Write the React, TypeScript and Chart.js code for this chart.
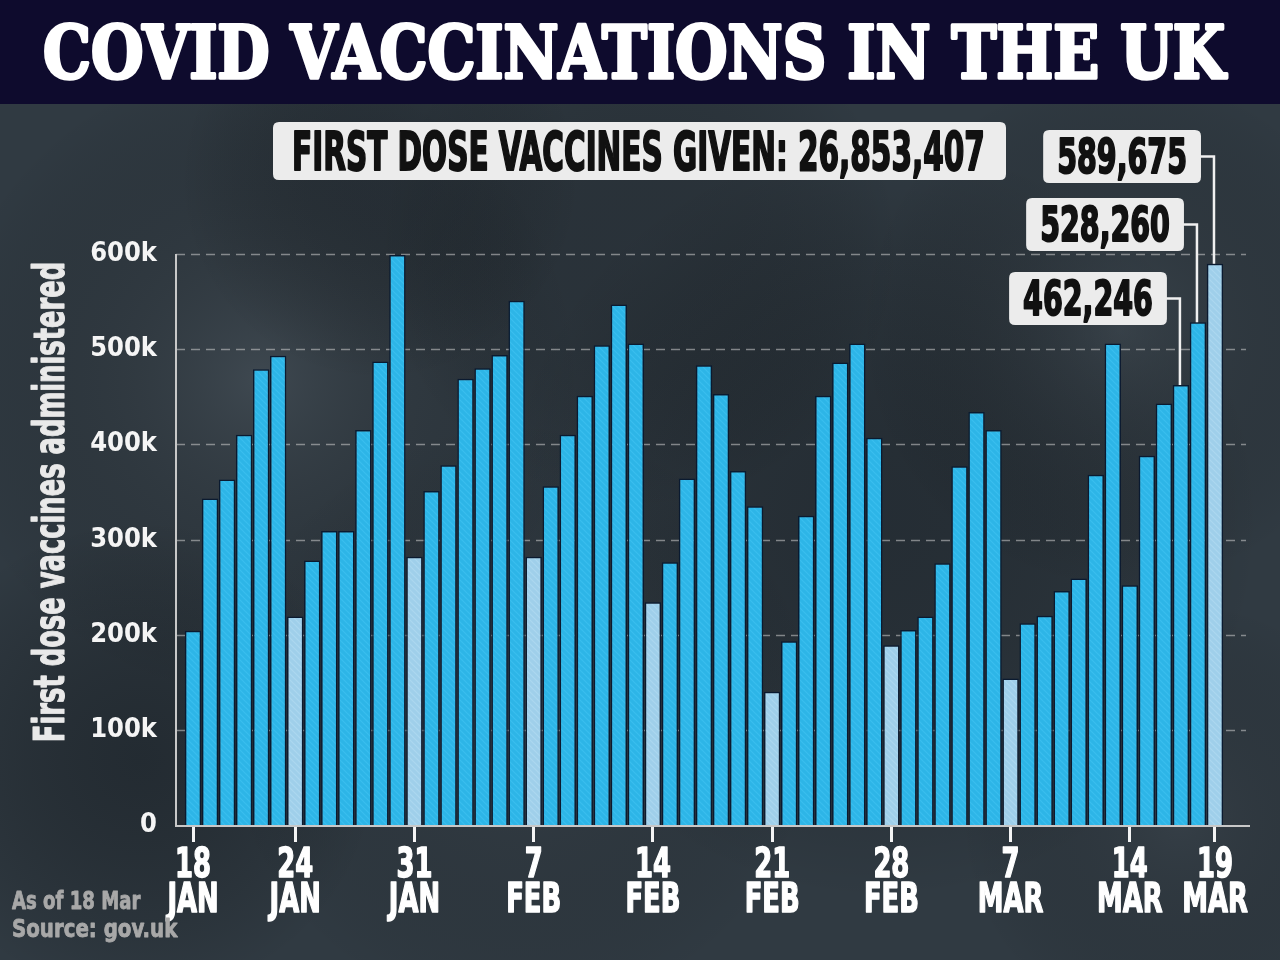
import React, { useEffect, useRef } from 'react';
import { Chart, registerables } from 'chart.js';

Chart.register(...registerables);

// ---------- DATA ----------
const days = [
  '18 Jan', '19 Jan', '20 Jan', '21 Jan', '22 Jan', '23 Jan', '24 Jan', '25 Jan', '26 Jan', '27 Jan',
  '28 Jan', '29 Jan', '30 Jan', '31 Jan',
  '1 Feb', '2 Feb', '3 Feb', '4 Feb', '5 Feb', '6 Feb', '7 Feb', '8 Feb', '9 Feb', '10 Feb',
  '11 Feb', '12 Feb', '13 Feb', '14 Feb', '15 Feb', '16 Feb', '17 Feb', '18 Feb', '19 Feb', '20 Feb',
  '21 Feb', '22 Feb', '23 Feb', '24 Feb', '25 Feb', '26 Feb', '27 Feb', '28 Feb',
  '1 Mar', '2 Mar', '3 Mar', '4 Mar', '5 Mar', '6 Mar', '7 Mar', '8 Mar', '9 Mar', '10 Mar',
  '11 Mar', '12 Mar', '13 Mar', '14 Mar', '15 Mar', '16 Mar', '17 Mar', '18 Mar', '19 Mar',
];

const firstDoses = [
  204000, 343000, 363000, 410000, 479000, 493000, 219000, 278000, 309000, 309000,
  415000, 487000, 599000, 282000,
  351000, 378000, 469000, 480000, 494000, 551000, 282000, 356000, 410000, 451000,
  504000, 547000, 506000, 234000, 276000, 364000, 483000, 453000, 372000, 335000,
  140000, 193000, 325000, 451000, 486000, 506000, 407000, 189000,
  205000, 219000, 275000, 377000, 434000, 415000, 154000, 212000, 220000, 246000,
  259000, 368000, 506000, 252000, 388000, 443000, 462246, 528260, 589675,
];

const highlightedDays = ['24 Jan', '31 Jan', '7 Feb', '14 Feb', '21 Feb', '28 Feb', '7 Mar', '19 Mar'];

const tickDays = ['18 Jan', '24 Jan', '31 Jan', '7 Feb', '14 Feb', '21 Feb', '28 Feb', '7 Mar', '14 Mar', '19 Mar'];
const tickDayLabels = ['18', '24', '31', '7', '14', '21', '28', '7', '14', '19'];
const tickMonthLabels = ['JAN', 'JAN', 'JAN', 'FEB', 'FEB', 'FEB', 'FEB', 'MAR', 'MAR', 'MAR'];

const yTickValues = [0, 100000, 200000, 300000, 400000, 500000, 600000];
const yTickLabels = ['0', '100k', '200k', '300k', '400k', '500k', '600k'];

const calloutDays = ['17 Mar', '18 Mar', '19 Mar'];

const titleText = 'COVID VACCINATIONS IN THE UK';
const subtitleText = 'FIRST DOSE VACCINES GIVEN: 26,853,407';
const yAxisTitle = 'First dose vaccines administered';
const footerLines = ['As of 18 Mar', 'Source: gov.uk'];

// ---------- DRAWING HELPERS ----------
const W = 1280;
const H = 960;
const COND = "'DejaVu Sans Condensed', 'DejaVu Sans', sans-serif";

function paint(ctx: CanvasRenderingContext2D, s: string, color: string, stroke: number) {
  ctx.fillStyle = color;
  ctx.fillText(s, 0, 0);
  if (stroke > 0) {
    ctx.strokeStyle = color;
    ctx.lineWidth = stroke;
    ctx.lineJoin = 'round';
    ctx.strokeText(s, 0, 0);
  }
}

function fitText(
  ctx: CanvasRenderingContext2D, s: string, x: number, baseline: number,
  font: string, color: string, targetW: number, align: CanvasTextAlign, stroke = 0,
) {
  ctx.save();
  ctx.font = font;
  const w = ctx.measureText(s).width + stroke;
  const sx = targetW / w;
  ctx.translate(x, baseline);
  ctx.scale(sx, 1);
  ctx.textAlign = align;
  ctx.textBaseline = 'alphabetic';
  paint(ctx, s, color, stroke);
  ctx.restore();
}

function scaledText(
  ctx: CanvasRenderingContext2D, s: string, x: number, baseline: number,
  font: string, color: string, sx: number, align: CanvasTextAlign, stroke = 0,
) {
  ctx.save();
  ctx.font = font;
  ctx.translate(x, baseline);
  ctx.scale(sx, 1);
  ctx.textAlign = align;
  ctx.textBaseline = 'alphabetic';
  paint(ctx, s, color, stroke);
  ctx.restore();
}

function measureScaled(ctx: CanvasRenderingContext2D, s: string, font: string, sx: number) {
  ctx.save();
  ctx.font = font;
  const w = ctx.measureText(s).width * sx;
  ctx.restore();
  return w;
}

function roundRect(ctx: CanvasRenderingContext2D, x: number, y: number, w: number, h: number, r: number) {
  ctx.beginPath();
  ctx.moveTo(x + r, y);
  ctx.lineTo(x + w - r, y);
  ctx.quadraticCurveTo(x + w, y, x + w, y + r);
  ctx.lineTo(x + w, y + h - r);
  ctx.quadraticCurveTo(x + w, y + h, x + w - r, y + h);
  ctx.lineTo(x + r, y + h);
  ctx.quadraticCurveTo(x, y + h, x, y + h - r);
  ctx.lineTo(x, y + r);
  ctx.quadraticCurveTo(x, y, x + r, y);
  ctx.closePath();
}

function stripes(base: string, line: string) {
  const c = document.createElement('canvas');
  c.width = 6;
  c.height = 6;
  const p = c.getContext('2d')!;
  p.fillStyle = base;
  p.fillRect(0, 0, 6, 6);
  p.strokeStyle = line;
  p.lineWidth = 1.2;
  p.beginPath();
  p.moveTo(0, 0); p.lineTo(6, 6);
  p.moveTo(-3, 3); p.lineTo(3, 9);
  p.moveTo(3, -3); p.lineTo(9, 3);
  p.stroke();
  return p.createPattern(c, 'repeat') as CanvasPattern;
}

const backgroundPlugin = {
  id: 'bgPlugin',
  beforeDraw(chart: any) {
    const ctx: CanvasRenderingContext2D = chart.ctx;
    ctx.save();
    ctx.fillStyle = '#303a42';
    ctx.fillRect(0, 0, W, H);
    const blobs: [number, number, number, string][] = [
      [260, 380, 320, 'rgba(84,94,102,0.40)'],
      [880, 520, 380, 'rgba(20,26,32,0.40)'],
      [1120, 330, 260, 'rgba(76,86,94,0.35)'],
      [520, 720, 300, 'rgba(70,78,86,0.30)'],
      [140, 760, 240, 'rgba(16,21,26,0.40)'],
      [640, 250, 260, 'rgba(30,36,42,0.35)'],
      [1180, 820, 220, 'rgba(66,74,82,0.30)'],
      [380, 180, 200, 'rgba(24,30,36,0.35)'],
    ];
    for (const [x, y, r, c] of blobs) {
      const g = ctx.createRadialGradient(x, y, 0, x, y, r);
      g.addColorStop(0, c);
      g.addColorStop(1, 'rgba(0,0,0,0)');
      ctx.fillStyle = g;
      ctx.fillRect(0, 0, W, H);
    }
    // title band
    ctx.fillStyle = '#0e0b2d';
    ctx.fillRect(0, 0, W, 104);
    ctx.restore();
  },
  beforeDatasetsDraw(chart: any) {
    const ctx: CanvasRenderingContext2D = chart.ctx;
    const y = chart.scales.y;
    ctx.save();
    // dashed gridlines
    ctx.strokeStyle = 'rgba(205,205,205,0.55)';
    ctx.lineWidth = 1.5;
    ctx.setLineDash([9, 6]);
    for (const v of yTickValues) {
      if (v === 0) continue;
      const py = Math.round(y.getPixelForValue(v)) + 0.5;
      ctx.beginPath();
      ctx.moveTo(176, py);
      ctx.lineTo(1246, py);
      ctx.stroke();
    }
    ctx.setLineDash([]);
    // axis lines
    ctx.strokeStyle = '#c8c8c8';
    ctx.lineWidth = 2;
    const top = y.getPixelForValue(600000);
    const bottom = y.getPixelForValue(0);
    ctx.beginPath();
    ctx.moveTo(176, top);
    ctx.lineTo(176, bottom + 1);
    ctx.moveTo(175, bottom + 1);
    ctx.lineTo(1250, bottom + 1);
    ctx.stroke();
    ctx.restore();
  },
  afterDraw(chart: any) {
    const ctx: CanvasRenderingContext2D = chart.ctx;
    const xs = chart.scales.x;

    // title
    fitText(ctx, titleText, 43, 78, "bold 72px 'DejaVu Serif', serif", '#ffffff', 1185, 'left', 3.5);

    // subtitle box
    ctx.save();
    ctx.fillStyle = '#ececec';
    roundRect(ctx, 273, 122, 733, 58, 6);
    ctx.fill();
    ctx.restore();
    fitText(ctx, subtitleText, 292, 170, `bold 53px ${COND}`, '#111111', 694, 'left', 2);

    // y axis title
    ctx.save();
    ctx.translate(64, 502);
    ctx.rotate(-Math.PI / 2);
    fitText(ctx, yAxisTitle, 0, 0, `bold 42px ${COND}`, '#e9e9e9', 481, 'center', 1);
    ctx.restore();

    // x tick labels
    tickDays.forEach((d, k) => {
      const px = xs.getPixelForValue(days.indexOf(d));
      scaledText(ctx, tickDayLabels[k], px, 877, `bold 41px ${COND}`, '#ffffff', 0.7, 'center', 1.5);
      scaledText(ctx, tickMonthLabels[k], px, 912, `bold 41px ${COND}`, '#ffffff', 0.7, 'center', 1.5);
    });

    // footer
    fitText(ctx, footerLines[0], 12, 909, `bold 25px ${COND}`, '#a8a8a8', 129, 'left', 0.8);
    fitText(ctx, footerLines[1], 12, 937, `bold 25px ${COND}`, '#a8a8a8', 166, 'left', 0.8);

    // callouts
    const meta = chart.getDatasetMeta(0);
    const boxTops = [272, 198, 130];
    const cfont = `bold 48px ${COND}`;
    const csx = 0.66;
    calloutDays.forEach((d, k) => {
      const i = days.indexOf(d);
      const bar = meta.data[i];
      const label = firstDoses[i].toLocaleString('en-US');
      const tw = measureScaled(ctx, label, cfont, csx);
      const bw = tw + 28;
      const bh = 53;
      const right = bar.x - 14;
      const left = right - bw;
      const top = boxTops[k];
      const mid = top + bh / 2;
      ctx.save();
      ctx.strokeStyle = '#f0f0f0';
      ctx.lineWidth = 2.5;
      ctx.beginPath();
      ctx.moveTo(right - 2, mid);
      ctx.lineTo(bar.x - 1, mid);
      ctx.lineTo(bar.x - 1, bar.y);
      ctx.stroke();
      ctx.fillStyle = '#ececec';
      roundRect(ctx, left, top, bw, bh, 6);
      ctx.fill();
      ctx.restore();
      scaledText(ctx, label, left + bw / 2, top + 43, cfont, '#111111', csx, 'center', 2);
    });
  },
};

export default function App() {
  const ref = useRef<HTMLCanvasElement>(null);

  useEffect(() => {
    const canvas = ref.current!;
    const blue = stripes('#2db5e7', '#3bbeee');
    const light = stripes('#9fcfea', '#acd7ef');
    const colors = days.map((d) => (highlightedDays.includes(d) ? light : blue));
    const tickIdx = tickDays.map((d) => days.indexOf(d));

    const chart = new Chart(canvas, {
      type: 'bar',
      data: {
        labels: days,
        datasets: [
          {
            label: 'First dose vaccines administered',
            data: firstDoses,
            backgroundColor: colors as any,
            borderColor: '#0a1a30',
            borderWidth: 1.5,
            categoryPercentage: 1,
            barPercentage: 0.96,
          },
        ],
      },
      options: {
        responsive: false,
        animation: false,
        devicePixelRatio: 1,
        layout: { padding: { top: 254, right: 56.5, bottom: 0, left: 0 } },
        plugins: {
          legend: { display: false },
          tooltip: { enabled: false },
          title: { display: false },
        },
        scales: {
          x: {
            type: 'category',
            offset: true,
            afterFit: (scale: any) => { scale.height = 135; },
            border: { display: false },
            grid: {
              display: true,
              offset: false,
              drawOnChartArea: false,
              drawTicks: true,
              tickLength: 17,
              lineWidth: 3,
              color: (c: any) => (tickIdx.includes(c.index) ? '#f4f4f4' : 'rgba(0,0,0,0)'),
            },
            ticks: { display: false, autoSkip: false },
          },
          y: {
            min: 0,
            max: 600000,
            afterFit: (scale: any) => { scale.width = 184.5; },
            border: { display: false },
            grid: { display: false },
            ticks: {
              stepSize: 100000,
              padding: 19.5,
              color: '#f5f5f5',
              font: { family: COND, weight: 'bold', size: 27 },
              callback: (v: any) => {
                const k = yTickValues.indexOf(Number(v));
                return k >= 0 ? yTickLabels[k] : '';
              },
            },
          },
        },
      },
      plugins: [backgroundPlugin],
    });

    return () => chart.destroy();
  }, []);

  return (
    <div style={{ position: 'fixed', left: 0, top: 0, width: W, height: H }}>
      <canvas ref={ref} width={W} height={H} style={{ display: 'block', width: W, height: H }} />
    </div>
  );
}
